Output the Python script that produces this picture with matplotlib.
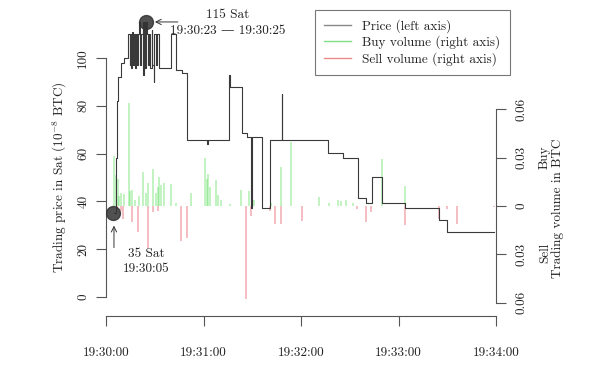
import matplotlib
matplotlib.use("Agg")
import matplotlib.pyplot as plt
from matplotlib.lines import Line2D

plt.rcParams["font.family"] = ["cmr10", "DejaVu Serif"]
plt.rcParams["mathtext.fontset"] = "cm"
plt.rcParams["axes.unicode_minus"] = False
plt.rcParams["font.size"] = 9.5

# Zeit in Sekunden ab 19:30:00
price_t = [5.0, 6.0, 6.5, 7.2, 9.0, 11.0, 13.5, 14.5, 15.0, 15.5, 16.0, 16.5,
           17.0, 17.6, 18.2, 19.0, 19.6, 20.6, 21.0, 21.5, 22.5, 22.8, 23.2,
           23.6, 24.2, 24.8, 25.2, 26.0, 26.5, 27.3, 28.0, 28.5, 29.3, 29.8,
           31.0, 31.5, 32.5, 40.0, 43.0, 46.6, 49.7, 62.0, 62.8, 75.5, 76.0,
           83.5, 86.6, 89.0, 89.2, 89.8, 95.8, 100.7, 108.0, 108.4, 136.9,
           146.0, 155.3, 160.2, 163.9, 170.0, 184.2, 205.0, 210.0, 238.8]
price_v = [35, 58, 82, 92, 98, 100, 110, 97, 110, 96, 111, 97,
           110, 96, 110, 97, 110, 115, 97, 110, 115, 93, 112,
           115, 96, 115, 110, 97, 110, 96, 112, 97, 90, 110,
           97, 110, 96, 110, 95, 94, 65.7, 64, 65.7, 93, 88,
           68.5, 67, 66, 37, 67, 37, 65.7, 85, 65.7, 60.2,
           58, 41.5, 39.2, 50, 39.2, 37, 32, 27, 27]

buy_t = [4.9, 6.1, 7.1, 8.0, 9.2, 11.0, 14.1, 15.0, 16.0, 18.1, 20.0, 22.9,
         24.6, 26.0, 29.0, 30.7, 32.2, 32.8, 33.9, 35.6, 39.9, 43.0, 52.2,
         61.1, 62.0, 62.9, 63.8, 67.8, 68.9, 71.0, 76.1, 82.9, 88.0, 91.0,
         101.7, 107.9, 114.0, 130.9, 137.1, 142.7, 144.6, 147.8, 152.2,
         169.9, 184.0]
buy_v = [0.031, 0.019, 0.017, 0.006, 0.008, 0.0075, 0.064, 0.009, 0.010,
         0.004, 0.006, 0.021, 0.008, 0.014, 0.023, 0.008, 0.012, 0.018,
         0.013, 0.014, 0.0136, 0.002, 0.008, 0.030, 0.017, 0.020, 0.012,
         0.016, 0.007, 0.004, 0.001, 0.010, 0.009, 0.004, 0.002, 0.024,
         0.040, 0.0055, 0.002, 0.004, 0.003, 0.004, 0.002, 0.029, 0.0124]

sell_t = [6.9, 9.0, 10.3, 15.8, 19.8, 26.0, 29.0, 32.1, 46.0, 49.9, 85.9,
          89.0, 100.7, 104.2, 107.9, 120.7, 154.5, 160.0, 163.1, 184.0,
          205.0, 210.1, 216.3, 238.8]
sell_v = [0.002, 0.003, 0.008, 0.010, 0.016, 0.026, 0.004, 0.003, 0.022,
          0.020, 0.058, 0.006, 0.003, 0.011, 0.011, 0.0095, 0.002, 0.010,
          0.004, 0.012, 0.0083, 0.002, 0.011, 0.0005]

x_ticks = [0, 60, 120, 180, 240]
x_labels = ["19:30:00", "19:31:00", "19:32:00", "19:33:00", "19:34:00"]
vol_ticks = [-0.06, -0.03, 0, 0.03, 0.06]
vol_labels = ["0.06", "0.03", "0", "0.03", "0.06"]

axis_col = "#555555"
text_col = "#222222"
green = (0.3, 0.85, 0.3, 0.4)
red = (0.88, 0.25, 0.3, 0.4)

fig = plt.figure(figsize=(6, 3.65), dpi=100)
ax = fig.add_axes([106 / 600, 49 / 365, 390 / 600, 308 / 365])
ax2 = ax.twinx()

# Volumen auf rechter Achse
ax2.vlines(buy_t, 0, buy_v, colors=[green], lw=1.2)
ax2.vlines(sell_t, [-v for v in sell_v], 0, colors=[red], lw=1.2)
ax2.set_ylim(-0.0683, 0.1229)

# Preis
ax.step(price_t, price_v, where="post", color="#3a3a3a", lw=0.8, zorder=3)
ax.set_zorder(ax2.get_zorder() + 1)
ax.patch.set_visible(False)
ax.set_xlim(0, 240)
ax.set_ylim(-8.09, 121.05)

ax.scatter([24.6], [115.3], s=100, color="#333333", alpha=0.85, zorder=4)
ax.scatter([4.5], [35], s=100, color="#333333", alpha=0.85, zorder=4)
arr = dict(arrowstyle="->", color="#333333", lw=0.7, shrinkA=0, shrinkB=0)
ax.annotate("", xy=(30.1, 115.2), xytext=(44.2, 115.2), arrowprops=arr)
ax.annotate("", xy=(4.9, 29.8), xytext=(4.9, 20.6), arrowprops=arr)
ax.text(74.9, 118.2, "115 Sat", ha="center", va="center", color=text_col)
ax.text(74.9, 111.5, "19:30:23 \u2014 19:30:25", ha="center", va="center", color=text_col)
ax.text(24.6, 17.9, "35 Sat", ha="center", va="center", color=text_col)
ax.text(24.6, 11.6, "19:30:05", ha="center", va="center", color=text_col)

for a in (ax, ax2):
    a.spines["top"].set_visible(False)
    for s in a.spines.values():
        s.set_color(axis_col)
        s.set_linewidth(0.8)
ax.spines["right"].set_visible(False)
ax2.spines["left"].set_visible(False)
ax2.spines["bottom"].set_visible(False)
ax.spines["left"].set_bounds(0, 100)
ax.spines["bottom"].set_bounds(0, 240)
ax2.spines["right"].set_bounds(-0.06, 0.06)

ax.set_xticks(x_ticks)
ax.set_xticklabels(x_labels)
ax.set_yticks([0, 20, 40, 60, 80, 100])
ax.set_yticklabels(["0", "20", "40", "60", "80", "100"], rotation=90, va="center")
ax2.set_yticks(vol_ticks)
ax2.set_yticklabels(vol_labels, rotation=90, va="center")
ax.tick_params(axis="both", colors=axis_col, labelcolor=text_col, length=7, width=0.8)
ax.tick_params(axis="x", pad=15)
ax.tick_params(axis="y", pad=5)
ax2.tick_params(axis="y", colors=axis_col, labelcolor=text_col, length=7, width=0.8, pad=7)

ax.set_ylabel(r"Trading price in Sat ($10^{-8}$ BTC)", color=text_col, va="center")
ax.yaxis.set_label_coords(-(106 - 60) / 390, (316 - 177) / 308)
fig.text(545 / 600, 1 - 157 / 365, "Buy", rotation=90, ha="center", va="center", color=text_col)
fig.text(545 / 600, 1 - 253 / 365, "Sell", rotation=90, ha="center", va="center", color=text_col)
fig.text(558 / 600, 1 - 208 / 365, "Trading volume in BTC", rotation=90, ha="center", va="center", color=text_col)

handles = [Line2D([], [], color="#888888", lw=1),
           Line2D([], [], color=(0.5, 0.88, 0.5), lw=1),
           Line2D([], [], color=(0.92, 0.55, 0.55), lw=1)]
labels = ["Price (left axis)", "Buy volume (right axis)", "Sell volume (right axis)"]
leg = fig.legend(handles, labels, loc="upper left", bbox_to_anchor=(315 / 600, 1 - 10 / 365),
                 borderaxespad=0, fancybox=False, edgecolor="#777777", framealpha=1,
                 labelspacing=0.2, handlelength=2.0, borderpad=0.7, handletextpad=0.9)
leg.get_frame().set_linewidth(0.8)
for t in leg.get_texts():
    t.set_color(text_col)

fig.savefig("out.png", dpi=100)
